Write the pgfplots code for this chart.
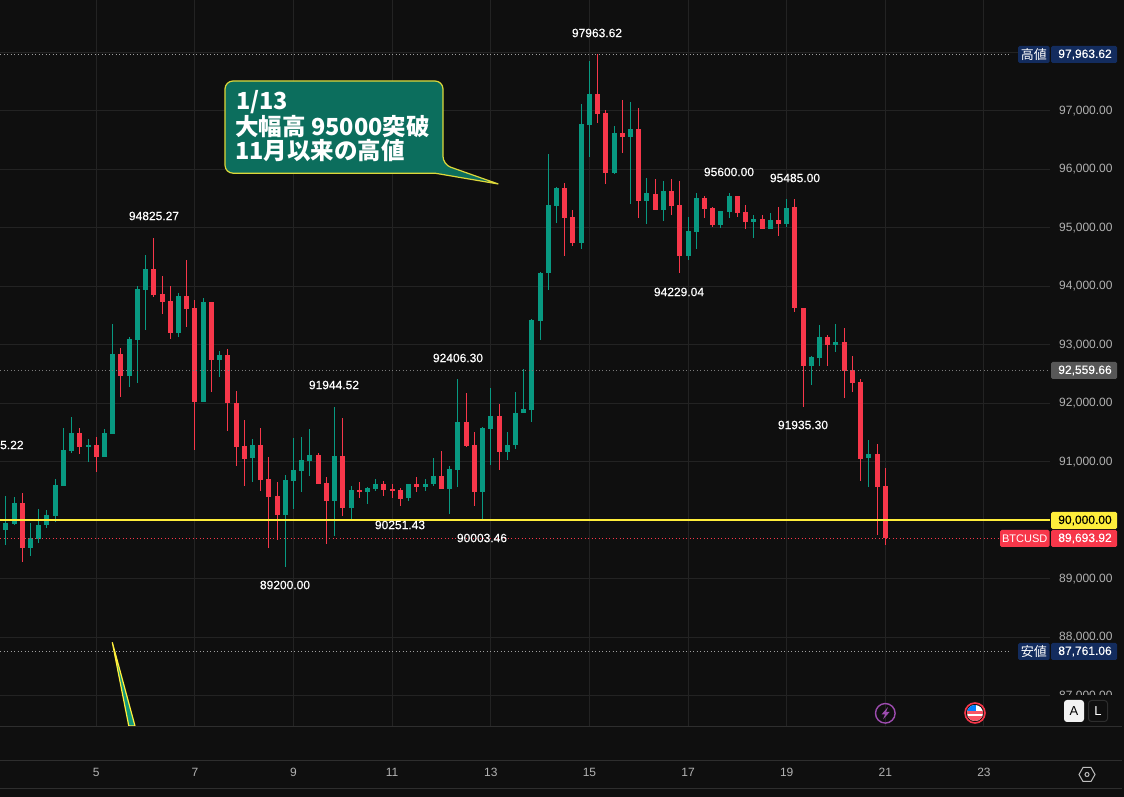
\documentclass[border=0pt]{standalone}
\usepackage{fontspec}
\usepackage{pgfplots}
\usepackage{pgfplotstable}
\pgfplotsset{compat=1.18}
\setmainfont{Liberation Sans}
\newfontfamily\semib[FakeBold=0.35]{Liberation Sans}
\newfontfamily\cjk{Noto Sans CJK JP}
\definecolor{bgc}{HTML}{0F0F0F}
\definecolor{gridc}{HTML}{232323}
\definecolor{sepc}{HTML}{2E2E2E}
\definecolor{upc}{HTML}{089981}
\definecolor{downc}{HTML}{F7374A}
\definecolor{ylw}{HTML}{FFEE3B}
\definecolor{tickc}{HTML}{B2B2B2}
\definecolor{navy}{HTML}{132C5E}
\definecolor{teal1}{HTML}{0C6E5D}
\definecolor{teal2}{HTML}{10987B}
\definecolor{calloutb}{HTML}{DDD83A}
% i high low bodytop bodybottom
\pgfplotstableread{
i high low top bot
0 90411 89572 89949 89829
1 90394 89914 90291 89932
3 89949 89384 89692 89521
4 90188 89606 89914 89675
5 90171 89863 90086 89914
6 90702 89966 90599 90068
7 91575 90582 91199 90582
8 91764 91147 91490 91182
10 91387 90993 91284 91250
12 91558 91079 91490 91079
13 93356 91473 92843 91473
15 93134 92277 93099 92466
16 94007 92346 93956 93082
17 94538 93254 94298 93939
21 93887 93134 93836 93202
24 93802 92021 93733 92021
26 92894 92449 92825 92740
30 91387 90651 91284 91062
34 90771 89200 90685 90086
35 91404 90188 90856 90668
36 91421 90479 91027 90839
37 91558 90753 91113 91010
40 91944.52 89726 91096 90325
42 90582 90010 90514 90205
44 90565 90274 90548 90479
45 90702 90497 90616 90531
49 90616 90325 90616 90377
51 90702 90497 90616 90565
52 91062 90582 90753 90616
54 90925 90103 90873 90531
55 92406.30 90565 91678 90856
58 91593 90003.46 91575 90479
59 92260 90942 91781 91558
61 91508 91029 91285 91166
62 92191 91217 91832 91285
63 92585 91832 91901 91832
64 93439 91679 93422 91884
65 94236 93074 94219 93399
66 96254 93929 95382 94219
67 95689 95074 95672 95365
70 97108 94630 96766 94732
71 97843 96202 97279 96749
74 96732 95912 96613 95929
76 97142 95399 96681 96544
78 95843 95057 95587 95450
80 95792 95108 95621 95296
83 95177 94442 94937 94510
84 95587 94630 95501 94920
87 95293 95002 95293 95053
88 95600 95173 95550 95276
91 95208 94831 95156 95105
93 95259 94985 95139 94985
95 95499 95019 95345 95070
98 92809 92313 92792 92638
99 93340 92638 93135 92775
101 93357 92878 93049 92998
105 91370 90565 91131 91062
}\upcandles
\pgfplotstableread{
i high low top bot
2 90462 89281 90291 89521
9 91575 91130 91490 91250
11 91421 90822 91284 91079
14 92945 92106 92843 92466
18 94825.27 93819 94298 93853
19 94178 93528 93870 93733
20 94007 93099 93750 93202
22 94452 93305 93836 93613
23 93767 91199 93630 92021
25 93733 92192 93733 92740
27 92928 91524 92825 92004
28 92209 90925 92004 91250
29 91712 90582 91267 91045
31 91575 90497 91284 90685
32 91079 89521 90702 90394
33 90651 89658 90411 90086
38 91147 90616 91113 90616
39 90736 89589 90634 90325
41 91747 90068 91096 90205
43 90651 90377 90514 90497
46 90668 90411 90616 90514
47 90616 90377 90531 90497
48 90548 90251.43 90514 90360
50 90736 90479 90616 90565
53 91182 90531 90753 90531
56 92175 91250 91678 91267
57 91507 90240 91284 90479
60 91986 90856 91781 91164
68 95758 94510 95672 95160
69 95296 94681 95177 94732
72 97963.62 96783 97279 96937
73 97006 95741 96954 95929
75 97177 96271 96613 96544
77 97040 95160 96681 95450
79 95826 95296 95570 95296
81 95826 95211 95621 95365
82 95792 94229.04 95382 94510
85 95536 95160 95501 95313
86 95362 95019 95345 95053
89 95550 95190 95550 95259
90 95396 94985 95276 95105
92 95225 94985 95156 94985
94 95345 94865 95139 95070
96 95485 93563 95345 93632
97 93632 91935.30 93632 92638
100 93169 92638 93135 92998
102 93289 92090 93049 92552
103 92809 92193 92570 92347
104 92415 90668 92364 91045
106 91302 89743 91131 90565
107 90891 89572 90582 89693.92
}\downcandles
\newcommand\wicks[2]{\addplot[draw=none,no markers,forget plot,error bars/.cd,y dir=both,y explicit,error mark=none,
  error bar style={draw=#2,line width=1pt}] table[x=i,y expr=(\thisrow{high}+\thisrow{low})/2,y error expr=(\thisrow{high}-\thisrow{low})/2] {#1};}
\newcommand\bodies[2]{\addplot[draw=none,no markers,forget plot,error bars/.cd,y dir=both,y explicit,error mark=none,
  error bar style={draw=#2,line width=5pt}] table[x=i,y expr=(\thisrow{top}+\thisrow{bot})/2,y error expr=(\thisrow{top}-\thisrow{bot})/2] {#1};}
\newcommand\pricebox[4]{% y, fill, text colour, text
  \fill[#2,rounded corners=1.5pt] (1051,#1-8.5) rectangle (1117,#1+8.5);
  \node[text=#3,font=\semib\fontsize{12}{12}\selectfont,inner sep=0pt] at (1085,#1) {#4};}
\newcommand\pricetag[5]{% y, left, fill, text
  \fill[#3,rounded corners=1.5pt] (#2,#1-8.5) rectangle (1049.5,#1+8.5);
  \node[text=white,font=\fontsize{#5}{12}\selectfont,inner sep=0pt] at ({(#2+1049.5)/2},#1) {#4};}
\newcommand\lab[3]{\node[text=white,font=\semib\fontsize{12}{12}\selectfont,inner sep=0pt] at (#1,#2) {#3};}
\begin{document}
\begin{tikzpicture}
\fill[bgc] (0,-71pt) rectangle (1124pt,726pt);
\useasboundingbox (0,-71pt) rectangle (1124pt,726pt);
\begin{axis}[
  at={(0,0)},anchor=south west,
  scale only axis,width=1050pt,height=726pt,
  xmin=-0.717,xmax=127.04,ymin=86482,ymax=98892,
  axis line style={draw=none},
  major tick length=0pt,
  tick style={draw=none},
  grid=major,grid style={color=gridc,line width=1pt},
  xtick={11,23,35,47,59,71,83,95,107,119},
  xticklabels={5,7,9,11,13,15,17,19,21,23},
  xticklabel style={text=tickc,font=\fontsize{12}{12}\selectfont,yshift=-39pt},
  ytick={87000,88000,89000,90000,91000,92000,93000,94000,95000,96000,97000},
  extra y ticks={98000},extra y tick labels={},
  extra tick style={grid=major},
  ytick pos=right,
  scaled y ticks=false,
  yticklabel style={text=tickc,font=\fontsize{12}{12}\selectfont,anchor=west,xshift=9pt,inner sep=0pt,
    /pgf/number format/.cd,fixed,fixed zerofill,precision=2,1000 sep={,},assume math mode=true},
]
\wicks{\upcandles}{upc}
\wicks{\downcandles}{downc}
\bodies{\upcandles}{upc}
\bodies{\downcandles}{downc}
\addplot[forget plot,color=white!60!bgc,line width=1pt,dash pattern=on 1pt off 2.5pt] coordinates {(-0.717,97963.62) (122.3,97963.62)};
\addplot[forget plot,color=white!60!bgc,line width=1pt,dash pattern=on 1pt off 2.5pt] coordinates {(-0.717,87761.06) (122.3,87761.06)};
\addplot[forget plot,color=white!45!bgc,line width=1pt,dash pattern=on 1pt off 2.5pt] coordinates {(-0.717,92559.66) (127.04,92559.66)};
\addplot[forget plot,color=downc,line width=1pt,dash pattern=on 1pt off 2.5pt] coordinates {(-0.717,89693.92) (122,89693.92)};
\addplot[forget plot,color=ylw,line width=2pt] coordinates {(-0.717,90000) (127.04,90000)};
\end{axis}
\begin{scope}[shift={(0,726pt)},x=1pt,y=-1pt]
  % cover the clipped tick label
  \fill[bgc] (1051,695) rectangle (1124,726);
  % panel separators
  \draw[sepc,line width=1pt] (0,726.5) -- (1122,726.5);
  \draw[sepc,line width=1pt] (0,760.3) -- (1122,760.3);
  \draw[sepc,line width=1pt] (0,788.3) -- (1122,788.3);
  % labels at extremes
  \lab{597}{33}{97963.62}
  \lab{154}{216}{94825.27}
  \lab{729}{172}{95600.00}
  \lab{795}{178}{95485.00}
  \lab{679}{292}{94229.04}
  \lab{458}{358}{92406.30}
  \lab{334}{385}{91944.52}
  \lab{803}{425}{91935.30}
  \lab{400}{525}{90251.43}
  \lab{482}{538}{90003.46}
  \lab{285}{585}{89200.00}
  \node[text=white,font=\semib\fontsize{12}{12}\selectfont,inner sep=0pt,anchor=west] at (0,445) {5.22};
  % price scale tags
  \pricetag{54.5}{1018}{navy}{{\cjk 高値}}{13}
  \pricebox{54.5}{navy}{white}{97,963.62}
  \pricebox{370.5}{white!30!bgc}{white}{92,559.66}
  \pricebox{520.5}{ylw}{black}{90,000.00}
  \pricetag{538.5}{1000}{downc}{BTCUSD}{11}
  \pricebox{538.5}{downc}{white}{89,693.92}
  \pricetag{651.5}{1018}{navy}{{\cjk 安値}}{13}
  \pricebox{651.5}{navy}{white}{87,761.06}
  % callout
  \draw[fill=teal1,draw=calloutb,line width=1.2pt,rounded corners=8pt]
    (225,81) -- (443,81) -- (443,164.5) [sharp corners] -- (498.3,184) -- (435,173.2) [rounded corners=8pt] -- (225,173.2) -- cycle;
  \node[anchor=west,inner sep=0pt,text=white,font=\cjk\bfseries\fontsize{23.5}{23.5}\selectfont] at (236,102) {1/13};
  \node[anchor=west,inner sep=0pt,text=white,font=\cjk\bfseries\fontsize{23.5}{23.5}\selectfont] at (235,126.5) {大幅高 95000突破};
  \node[anchor=west,inner sep=0pt,text=white,font=\cjk\bfseries\fontsize{23.5}{23.5}\selectfont] at (235,150.5) {11月以来の高値};
  % second callout, cut by the pane
  \draw[fill=teal2,draw=ylw,line width=1.2pt] (112.3,642.3) -- (128.8,726) -- (135,726) -- cycle;
  \draw[sepc,line width=1pt] (100,726.5) -- (150,726.5);
  % event icons
  \draw[color=purple!60!blue!70!white,line width=1.4pt] (885.3,713.3) circle[radius=9.8];
  \fill[color=purple!60!blue!70!white] (888,707) -- (881.5,714.5) -- (885,714.5) -- (883,719.5) -- (889.5,712) -- (886,712) -- cycle;
  \draw[downc,line width=1.6pt] (975,713) circle[radius=10];
  \begin{scope}
    \clip (975,713) circle[radius=8];
    \fill[white] (965,703) rectangle (985,723);
    \fill[downc!85!white] (965,711.5) rectangle (985,714);
    \fill[downc!85!white] (965,716.5) rectangle (985,723);
    \fill[blue!50!cyan] (965,703) rectangle (976,711.5);
  \end{scope}
  % A / L buttons
  \fill[white!95!black,rounded corners=3pt] (1064,700) rectangle (1084,722);
  \node[text=black,font=\fontsize{13}{13}\selectfont,inner sep=0pt] at (1074,711) {A};
  \draw[sepc,line width=1pt,rounded corners=3pt] (1088.5,700.5) rectangle (1107.5,721.5);
  \node[text=white,font=\fontsize{13}{13}\selectfont,inner sep=0pt] at (1098,711) {L};
  % settings icon
  \draw[white!75!black,line width=1pt] (1079,774.5) -- (1083,767.5) -- (1091,767.5) -- (1095,774.5) -- (1091,781.5) -- (1083,781.5) -- cycle;
  \draw[white!75!black,line width=1pt] (1087,774.5) circle[radius=2];
\end{scope}
\end{tikzpicture}
\end{document}
